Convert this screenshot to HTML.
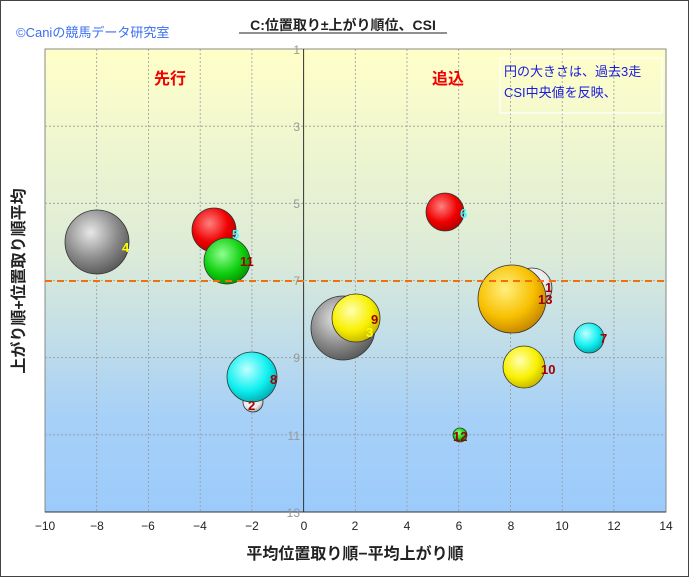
<!DOCTYPE html>
<html><head><meta charset="utf-8"><style>
html,body{margin:0;padding:0;background:#fff}
svg text{font-family:"Liberation Sans","Noto Sans CJK JP",sans-serif}
</style></head><body>
<svg width="689" height="577" viewBox="0 0 689 577" xmlns="http://www.w3.org/2000/svg">
<defs>
<linearGradient id="bg" x1="0" y1="0" x2="0" y2="1">
<stop offset="0" stop-color="#ffffc8"/><stop offset="0.45" stop-color="#dcebd8"/><stop offset="0.8" stop-color="#a6d0f8"/><stop offset="1" stop-color="#9ccbfb"/>
</linearGradient>
<radialGradient id="g_gray" cx="0.4" cy="0.35" r="0.7"><stop offset="0" stop-color="#e8e8e8"/><stop offset="0.6" stop-color="#8a8a8a"/><stop offset="1" stop-color="#555"/></radialGradient>
<radialGradient id="g_white" cx="0.4" cy="0.35" r="0.7"><stop offset="0" stop-color="#ffffff"/><stop offset="0.7" stop-color="#e8e8e8"/><stop offset="1" stop-color="#999"/></radialGradient>
<radialGradient id="g_red" cx="0.4" cy="0.35" r="0.7"><stop offset="0" stop-color="#ff8080"/><stop offset="0.6" stop-color="#f00000"/><stop offset="1" stop-color="#b00000"/></radialGradient>
<radialGradient id="g_green" cx="0.4" cy="0.35" r="0.7"><stop offset="0" stop-color="#90ff90"/><stop offset="0.6" stop-color="#10d010"/><stop offset="1" stop-color="#009000"/></radialGradient>
<radialGradient id="g_cyan" cx="0.4" cy="0.35" r="0.7"><stop offset="0" stop-color="#c0ffff"/><stop offset="0.6" stop-color="#10f0f0"/><stop offset="1" stop-color="#00a8b0"/></radialGradient>
<radialGradient id="g_yellow" cx="0.4" cy="0.35" r="0.7"><stop offset="0" stop-color="#ffffb0"/><stop offset="0.6" stop-color="#f8f000"/><stop offset="1" stop-color="#c0b000"/></radialGradient>
<radialGradient id="g_orange" cx="0.4" cy="0.35" r="0.7"><stop offset="0" stop-color="#fff080"/><stop offset="0.6" stop-color="#f8c000"/><stop offset="1" stop-color="#c08000"/></radialGradient>
</defs>
<rect x="0.5" y="0.5" width="688" height="576" fill="#fff" stroke="#444"/>
<text x="16" y="37" font-size="13" fill="#3a6ef0">©Caniの競馬データ研究室</text>
<text x="343" y="30" font-size="14" font-weight="bold" text-anchor="middle" fill="#222">C:位置取り±上がり順位、CSI</text>
<line x1="239" y1="33" x2="447" y2="33" stroke="#222" stroke-width="1"/>
<rect x="45" y="49" width="621" height="463" fill="url(#bg)" stroke="#888"/>
<g stroke="#999" stroke-dasharray="2,2" stroke-width="0.8">
<line x1="96.7" y1="49" x2="96.7" y2="512"/><line x1="148.5" y1="49" x2="148.5" y2="512"/><line x1="200.2" y1="49" x2="200.2" y2="512"/><line x1="251.9" y1="49" x2="251.9" y2="512"/>
<line x1="355.3" y1="49" x2="355.3" y2="512"/><line x1="407" y1="49" x2="407" y2="512"/><line x1="458.7" y1="49" x2="458.7" y2="512"/><line x1="510.5" y1="49" x2="510.5" y2="512"/><line x1="562.2" y1="49" x2="562.2" y2="512"/><line x1="613.9" y1="49" x2="613.9" y2="512"/>
<line x1="45" y1="126.2" x2="666" y2="126.2"/><line x1="45" y1="203.3" x2="666" y2="203.3"/><line x1="45" y1="280.5" x2="666" y2="280.5"/><line x1="45" y1="357.7" x2="666" y2="357.7"/><line x1="45" y1="434.8" x2="666" y2="434.8"/>
</g>
<line x1="303.6" y1="49" x2="303.6" y2="512" stroke="#333"/>
<line x1="45" y1="512" x2="666" y2="512" stroke="#333"/>
<g font-size="12" fill="#999" text-anchor="end">
<text x="300" y="54">1</text><text x="300" y="131">3</text><text x="300" y="208">5</text><text x="300" y="285">7</text><text x="300" y="362">9</text><text x="300" y="440">11</text><text x="300" y="517">13</text>
</g>
<g font-size="12" fill="#222" text-anchor="middle">
<text x="45" y="530">−10</text><text x="97" y="530">−8</text><text x="148" y="530">−6</text><text x="200" y="530">−4</text><text x="252" y="530">−2</text><text x="304" y="530">0</text><text x="355" y="530">2</text><text x="407" y="530">4</text><text x="459" y="530">6</text><text x="511" y="530">8</text><text x="562" y="530">10</text><text x="614" y="530">12</text><text x="666" y="530">14</text>
</g>
<text x="355" y="559" font-size="16" font-weight="bold" text-anchor="middle" fill="#222">平均位置取り順−平均上がり順</text>
<text transform="translate(24,281) rotate(-90)" font-size="16" font-weight="bold" text-anchor="middle" fill="#222">上がり順+位置取り順平均</text>
<text x="170" y="84" font-size="16" font-weight="bold" fill="#f00000" text-anchor="middle">先行</text>
<text x="448" y="84" font-size="16" font-weight="bold" fill="#f00000" text-anchor="middle">追込</text>
<rect x="500" y="58" width="162" height="55" fill="none" stroke="#fff" stroke-width="1.2"/>
<text x="504" y="76" font-size="13" fill="#1a1ae0">円の大きさは、過去3走</text>
<text x="504" y="97" font-size="13" fill="#1a1ae0">CSI中央値を反映、</text>
<g stroke="#333" stroke-width="0.8">
<circle cx="97" cy="242" r="32" fill="url(#g_gray)"/>
<circle cx="214" cy="230" r="22" fill="url(#g_red)"/>
<circle cx="227" cy="261" r="23" fill="url(#g_green)"/>
<circle cx="253" cy="402" r="10" fill="url(#g_white)"/>
<circle cx="252" cy="377" r="25" fill="url(#g_cyan)"/>
<circle cx="343" cy="328" r="32" fill="url(#g_gray)"/>
<circle cx="356" cy="318" r="24" fill="url(#g_yellow)"/>
<circle cx="445" cy="212" r="19" fill="url(#g_red)"/>
<circle cx="532" cy="288" r="20" fill="url(#g_white)"/>
<circle cx="512" cy="299" r="34" fill="url(#g_orange)"/>
<circle cx="589" cy="338" r="15" fill="url(#g_cyan)"/>
<circle cx="524" cy="367" r="21" fill="url(#g_yellow)"/>
<circle cx="460" cy="435" r="7" fill="url(#g_green)"/>
</g>
<line x1="45" y1="281" x2="666" y2="281" stroke="#f07010" stroke-width="2" stroke-dasharray="7,5"/>
<g font-size="13" font-weight="bold">
<text x="122" y="252" fill="#ffff00">4</text>
<text x="232" y="239" fill="#30ffff">5</text>
<text x="240" y="266" fill="#a00000">11</text>
<text x="270" y="384" fill="#a00000">8</text>
<text x="248" y="410" fill="#a00000">2</text>
<text x="371" y="324" fill="#a00000">9</text>
<text x="366" y="337" fill="#ffff00">3</text>
<text x="460" y="218" fill="#30ffff">6</text>
<text x="545" y="292" fill="#a00000">1</text>
<text x="538" y="304" fill="#a00000">13</text>
<text x="600" y="343" fill="#a00000">7</text>
<text x="541" y="374" fill="#a00000">10</text>
<text x="453" y="441" fill="#a00000">12</text>
</g>
</svg>
</body></html>
